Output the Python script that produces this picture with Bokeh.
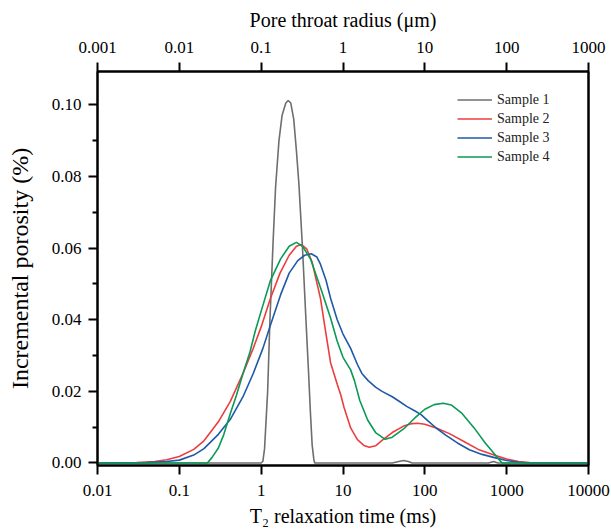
from bokeh.plotting import figure
from bokeh.models import (Range1d, LogScale, LogAxis, LinearAxis, FixedTicker,
                          CustomJSTickFormatter, PrintfTickFormatter, Legend, LegendItem)
from bokeh.embed import file_html
from bokeh.resources import INLINE

# ---- data ----
s1_t2 = [0.01, 1.0, 1.05, 1.1, 1.2, 1.28, 1.4, 1.5, 1.65, 1.8, 2.0, 2.14, 2.3, 2.5, 2.7,
         2.89, 3.2, 3.49, 3.8, 4.0, 4.2, 4.4, 4.5, 40, 48, 55, 63, 70, 600, 690, 780, 10000]
s1_val = [0, 0, 0.0005, 0.004, 0.02, 0.040, 0.062, 0.077, 0.090, 0.097, 0.1005, 0.1012,
          0.1005, 0.096, 0.087, 0.078, 0.060, 0.042, 0.025, 0.014, 0.005, 0.001, 0,
          0, 0.0004, 0.0007, 0.0004, 0, 0, 0.0004, 0, 0]

s2_t2 = [0.01, 0.03, 0.05, 0.07, 0.1, 0.15, 0.2, 0.3, 0.42, 0.6, 0.8, 1.0, 1.3, 1.7, 2.2,
         2.7, 3.1, 3.6, 4.2, 5.3, 6.2, 7.05, 8.5, 9.4, 10.3, 12.4, 15, 18, 21, 25, 30, 40,
         55, 70, 82, 100, 140, 200, 300, 450, 700, 1000, 1400, 1900, 2500, 10000]
s2_val = [0, 0.0001, 0.0004, 0.0009, 0.0018, 0.0038, 0.0062, 0.0115, 0.0172, 0.025, 0.032,
          0.038, 0.046, 0.053, 0.058, 0.0605, 0.061, 0.0598, 0.056, 0.046, 0.036, 0.028,
          0.022, 0.019, 0.0155, 0.0098, 0.0065, 0.0049, 0.0044, 0.0048, 0.0063, 0.0085,
          0.0103, 0.0110, 0.0111, 0.0108, 0.0097, 0.0082, 0.0060, 0.0038, 0.0022, 0.0011,
          0.0004, 0.0001, 0, 0]

s3_t2 = [0.01, 0.04, 0.07, 0.1, 0.15, 0.2, 0.3, 0.42, 0.6, 0.8, 1.05, 1.3, 1.73, 2.2, 2.8,
         3.4, 4.1, 4.8, 5.3, 6.2, 7.05, 8.5, 10, 12.4, 15, 17, 20.3, 25, 30, 40, 48, 60, 75,
         90, 110, 139, 180, 250, 350, 500, 710, 1000, 1400, 1900, 10000]
s3_val = [0, 0.0001, 0.0004, 0.0008, 0.0022, 0.0040, 0.0080, 0.0122, 0.0185, 0.025, 0.032,
          0.0385, 0.047, 0.053, 0.0565, 0.058, 0.0584, 0.0575, 0.0555, 0.051, 0.046, 0.040,
          0.036, 0.032, 0.0275, 0.025, 0.023, 0.0212, 0.0200, 0.0185, 0.0173, 0.0158,
          0.0146, 0.0135, 0.0117, 0.0097, 0.0078, 0.0056, 0.0037, 0.0024, 0.0015, 0.0007,
          0.0002, 0, 0]

s4_t2 = [0.01, 0.22, 0.25, 0.3, 0.35, 0.42, 0.5, 0.6, 0.73, 0.85, 1.05, 1.3, 1.73, 2.2, 2.69,
         3.2, 4.0, 5.3, 7.05, 8.5, 10, 12.4, 13.8, 16, 20, 25, 32.8, 40, 55, 75, 100, 130,
         168, 210, 280, 400, 550, 710, 820, 880, 10000]
s4_val = [0, 0, 0.0015, 0.0042, 0.008, 0.0138, 0.019, 0.025, 0.031, 0.037, 0.044, 0.051,
          0.057, 0.0605, 0.0616, 0.0605, 0.057, 0.049, 0.0405, 0.034, 0.0295, 0.026, 0.023,
          0.0175, 0.012, 0.0085, 0.0066, 0.0072, 0.0095, 0.0125, 0.0150, 0.0163, 0.0167,
          0.0162, 0.0140, 0.0098, 0.0055, 0.0025, 0.0008, 0, 0]

series_names = ["Sample 1", "Sample 2", "Sample 3", "Sample 4"]
series_colors = ["#6e6e6e", "#ec3d3f", "#1f5aa6", "#0a9a55"]

x_ticks = [0.01, 0.1, 1, 10, 100, 1000, 10000]
top_ticks = [0.001, 0.01, 0.1, 1, 10, 100, 1000]
y_ticks = [0.0, 0.02, 0.04, 0.06, 0.08, 0.10]
y_minor = [0.01, 0.03, 0.05, 0.07, 0.09]

FONT = "Liberation Serif"

p = figure(frame_width=491, frame_height=394, x_axis_type="log", output_backend="svg",
           toolbar_location=None, x_range=Range1d(0.01, 10000),
           y_range=Range1d(-0.0007, 0.1093),
           min_border_left=97, min_border_right=23, min_border_top=71, min_border_bottom=65)
p.extra_x_ranges = {"r": Range1d(0.001, 1000)}
p.extra_x_scales = {"r": LogScale()}

p.grid.visible = False
p.outline_line_color = "black"
p.outline_line_width = 2
p.background_fill_color = "white"
p.border_fill_color = "white"

fmt = CustomJSTickFormatter(code="return Number(tick.toPrecision(6)).toString();")

xa = p.xaxis[0]
xa.ticker = FixedTicker(ticks=x_ticks, minor_ticks=[])
xa.formatter = fmt
xa.axis_label = "T\u2082 relaxation time (ms)"

ya = p.yaxis[0]
ya.ticker = FixedTicker(ticks=y_ticks, minor_ticks=y_minor)
ya.formatter = PrintfTickFormatter(format="%.2f")
ya.axis_label = "Incremental porosity (%)"

top = LogAxis(x_range_name="r", axis_label="Pore throat radius (\u03bcm)")
top.ticker = FixedTicker(ticks=top_ticks, minor_ticks=[])
top.formatter = fmt
p.add_layout(top, "above")

right = LinearAxis()
right.ticker = FixedTicker(ticks=[])
p.add_layout(right, "right")

for ax in [xa, ya, top, right]:
    ax.axis_line_width = 2
    ax.axis_line_color = "black"
    ax.major_tick_line_width = 2
    ax.major_tick_line_color = "black"
    ax.minor_tick_line_width = 2
    ax.major_tick_in = 0
    ax.major_tick_out = 9
    ax.minor_tick_in = 0
    ax.minor_tick_out = 5
    ax.major_label_text_font = FONT
    ax.major_label_text_font_size = "17px"
    ax.major_label_text_color = "black"
    ax.axis_label_text_font = FONT
    ax.axis_label_text_font_size = "20px"
    ax.axis_label_text_font_style = "normal"
    ax.axis_label_text_color = "black"
    ax.major_label_standoff = 6
right.major_label_text_font_size = "0px"
right.major_tick_line_color = None
right.minor_tick_line_color = None
xa.major_label_standoff = 10
xa.axis_label_standoff = 6
top.major_label_standoff = 10
top.axis_label_standoff = 8
ya.major_label_standoff = 7
ya.axis_label_standoff = 16
ya.axis_label_text_font_size = "24px"

xs = [s1_t2, s2_t2, s3_t2, s4_t2]
ys = [s1_val, s2_val, s3_val, s4_val]
items = []
for x, y, name, c in zip(xs, ys, series_names, series_colors):
    r = p.line(x, y, line_color=c, line_width=1.6)
    items.append(LegendItem(label=name, renderers=[r]))

legend = Legend(items=items, location=(360, 299), orientation="vertical")
legend.border_line_color = None
legend.background_fill_alpha = 0
legend.label_text_font = FONT
legend.label_text_font_size = "14px"
legend.label_text_color = "#222222"
legend.glyph_width = 35
legend.glyph_height = 19
legend.label_height = 19
legend.spacing = 0
legend.padding = 5
legend.label_standoff = 5
legend.margin = 0
p.add_layout(legend, "center")

open("out.html", "w").write(file_html(p, INLINE))
